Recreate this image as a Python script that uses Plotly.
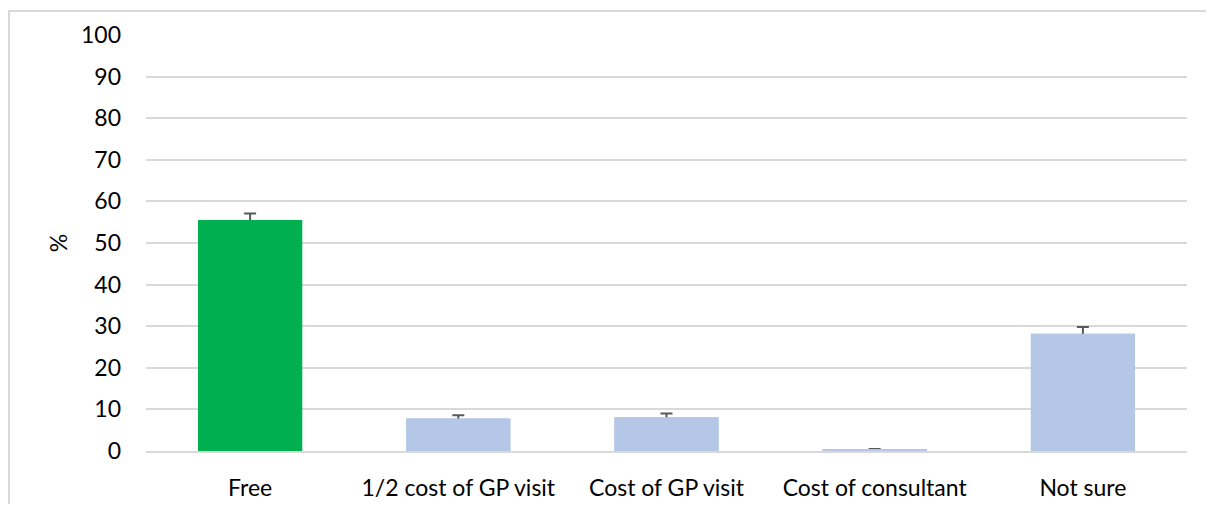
import plotly.graph_objects as go

# Preferred cost for service (%)
categorias = ["Free", "1/2 cost of GP visit", "Cost of GP visit", "Cost of consultant", "Not sure"]
percentuais = [55.5, 7.8, 8.1, 0.3, 28.2]
erros = [1.6, 0.8, 0.9, 0.2, 1.6]
cores = ["#00B050", "#B4C7E7", "#B4C7E7", "#B4C7E7", "#B4C7E7"]

fig = go.Figure()
# barras com erro simetrico; a segunda barra por cima esconde a metade de baixo (como no Excel)
fig.add_trace(go.Bar(
    x=categorias, y=percentuais, marker_color=cores, marker_line_width=0,
    error_y=dict(type="data", array=erros, color="#595959", thickness=2, width=6),
))
fig.add_trace(go.Bar(x=categorias, y=percentuais, marker_color=cores, marker_line_width=0))

# a pagina tem margem de 8px no body, entao a figura fica um pouco menor
fig.update_layout(
    width=1198, height=496,
    margin=dict(l=138, r=19, t=25, b=53),
    plot_bgcolor="white", paper_bgcolor="white",
    font=dict(family="Lato, Carlito, Calibri, sans-serif", size=23, color="#000000"),
    barmode="overlay", bargap=0.5, showlegend=False,
)
fig.update_yaxes(range=[0, 100], dtick=10, showgrid=True, gridcolor="#D9D9D9", gridwidth=2,
                 zeroline=False, ticks="", ticklabelstandoff=24,
                 title=dict(text="%", standoff=6, font=dict(size=23)))
fig.update_xaxes(showline=True, linecolor="#D9D9D9", linewidth=2, ticks="", ticklabelstandoff=15,
                 automargin=False)

# moldura cinza em volta do grafico (so aparecem topo e esquerda)
fig.add_shape(type="rect", xref="paper", yref="paper", x0=-0.1316, x1=1.1, y0=-0.3, y1=1.0574,
              line=dict(color="#D9D9D9", width=2), layer="below")

fig.write_html("out.html")
